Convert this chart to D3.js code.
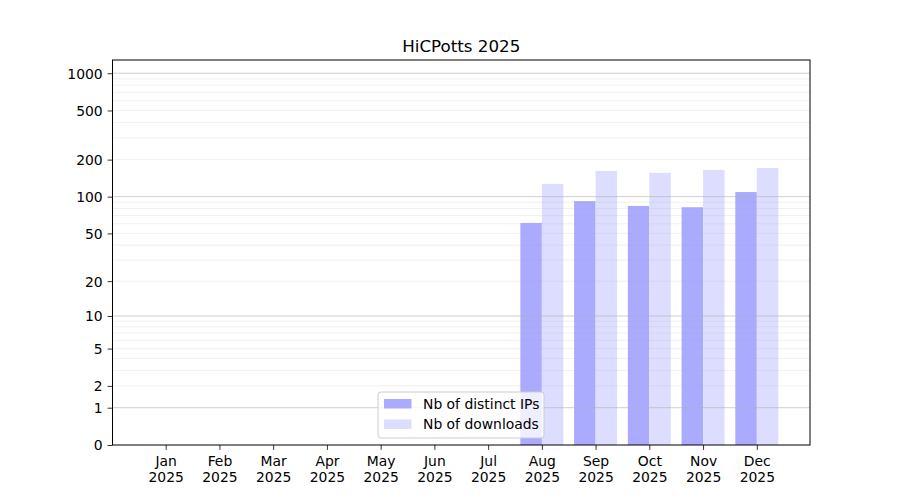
<!DOCTYPE html>
<html>
<head>
<meta charset="utf-8">
<script src="https://cdn.jsdelivr.net/npm/d3@7"></script>
<style>
  body { margin: 0; background: #fff; }
  text { font-family: "DejaVu Sans", sans-serif; }
</style>
</head>
<body>
<div id="chart"></div>
<script>
// data
const months = ["Jan", "Feb", "Mar", "Apr", "May", "Jun", "Jul", "Aug", "Sep", "Oct", "Nov", "Dec"];
const year = "2025";
const distinctIPs = [0, 0, 0, 0, 0, 0, 0, 61, 92, 84, 82, 109];
const downloads = [0, 0, 0, 0, 0, 0, 0, 127, 162, 156, 165, 171];
const yTicks = [0, 1, 2, 5, 10, 20, 50, 100, 200, 500, 1000];
const majorGrid = [1, 10, 100, 1000];
const seriesNames = ["Nb of distinct IPs", "Nb of downloads"];

const W = 900, H = 500;
const margin = {top: 60, right: 90, bottom: 55, left: 112.5};
const width = W - margin.left - margin.right;
const height = H - margin.top - margin.bottom;

const svg = d3.select("#chart").append("svg")
    .attr("width", W)
    .attr("height", H);

const g = svg.append("g")
    .attr("transform", `translate(${margin.left},${margin.top})`);

const x = d3.scaleLinear().domain([-0.99, 11.99]).range([0, width]);
const y = d3.scaleSymlog().constant(1).domain([0, 1279]).range([height, 0]);

const barW = 0.4;

// bars
g.append("g").selectAll("rect")
    .data(distinctIPs)
    .join("rect")
    .attr("x", (d, i) => x(i - barW))
    .attr("width", x(barW) - x(0))
    .attr("y", d => y(d))
    .attr("height", d => y(0) - y(d))
    .attr("fill", "#aaaaff");

g.append("g").selectAll("rect")
    .data(downloads)
    .join("rect")
    .attr("x", (d, i) => x(i))
    .attr("width", x(barW) - x(0))
    .attr("y", d => y(d))
    .attr("height", d => y(0) - y(d))
    .attr("fill", "#ddddff");

// minor grid: 2..9 of each decade
const minorGrid = [];
[1, 10, 100].forEach(dec => {
    for (let m = 2; m <= 9; m++) minorGrid.push(m * dec);
});

g.append("g").selectAll("line")
    .data(minorGrid)
    .join("line")
    .attr("x1", 0).attr("x2", width)
    .attr("y1", d => y(d)).attr("y2", d => y(d))
    .attr("stroke", "#b0b0b0")
    .attr("stroke-opacity", 0.22)
    .attr("stroke-width", 0.8);

g.append("g").selectAll("line")
    .data(majorGrid)
    .join("line")
    .attr("x1", 0).attr("x2", width)
    .attr("y1", d => y(d)).attr("y2", d => y(d))
    .attr("stroke", "#b0b0b0")
    .attr("stroke-opacity", 0.75)
    .attr("stroke-width", 0.8);

// axes
const yAxis = g.append("g")
    .call(d3.axisLeft(y).tickValues(yTicks).tickFormat(d3.format("d")).tickSize(4.9).tickPadding(4.9));

const xAxis = g.append("g")
    .attr("transform", `translate(0,${height})`)
    .call(d3.axisBottom(x).tickValues(d3.range(months.length)).tickFormat("").tickSize(4.9));

[yAxis, xAxis].forEach(a => {
    a.select(".domain").remove();
    a.selectAll("line").attr("stroke", "#000").attr("stroke-width", 0.8);
    a.selectAll("text").attr("font-size", "13.9px").attr("fill", "#000")
        .attr("font-family", "DejaVu Sans");
});
yAxis.selectAll("text").attr("dy", "0.35em");

// two-line month labels
xAxis.selectAll(".tick").each(function(d) {
    const t = d3.select(this).append("text")
        .attr("fill", "#000")
        .attr("font-size", "13.9px")
        .attr("text-anchor", "middle")
        .attr("y", 21);
    t.append("tspan").attr("x", 0).text(months[d]);
    t.append("tspan").attr("x", 0).attr("dy", 16).text(year);
});

// frame
g.append("rect")
    .attr("width", width)
    .attr("height", height)
    .attr("fill", "none")
    .attr("stroke", "#000")
    .attr("stroke-width", 1);

// title
svg.append("text")
    .attr("x", margin.left + width / 2)
    .attr("y", 52)
    .attr("text-anchor", "middle")
    .attr("font-size", "16.7px")
    .text("HiCPotts 2025");

// legend
const legend = g.append("g")
    .attr("transform", `translate(${378 - margin.left},${392 - margin.top})`);

legend.append("rect")
    .attr("width", 166)
    .attr("height", 46)
    .attr("rx", 3)
    .attr("fill", "#fff")
    .attr("fill-opacity", 0.8)
    .attr("stroke", "#cccccc")
    .attr("stroke-width", 1);

const legendColors = ["#aaaaff", "#ddddff"];
legendColors.forEach((c, i) => {
    legend.append("rect")
        .attr("x", 6)
        .attr("y", 7 + i * 20.5)
        .attr("width", 27.5)
        .attr("height", 9.5)
        .attr("fill", c);
    legend.append("text")
        .attr("x", 45)
        .attr("y", 12 + i * 20.5)
        .attr("dy", "0.35em")
        .attr("font-size", "13.9px")
        .text(seriesNames[i]);
});
</script>
</body>
</html>
